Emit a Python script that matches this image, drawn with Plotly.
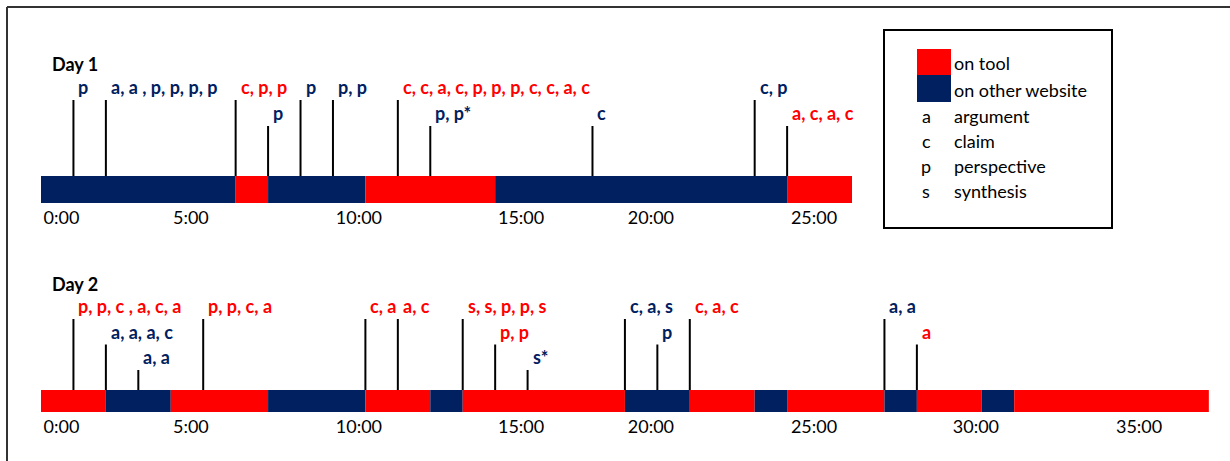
import plotly.graph_objects as go

# ---------------- data ----------------
TOOL = "#FF0000"
WEB = "#002060"
MODE_COLOR = {"tool": TOOL, "web": WEB}

# activity segments (minutes): boundaries and mode of each segment
DAY1_BOUNDS = [0, 6, 7, 10, 14, 23, 25]
DAY1_MODES = ["web", "tool", "web", "tool", "web", "tool"]

DAY2_BOUNDS = [0, 2, 4, 7, 10, 12, 13, 18, 20, 22, 23, 26, 27, 29, 30, 36]
DAY2_MODES = ["tool", "web", "tool", "web", "tool", "web", "tool", "web",
              "tool", "web", "tool", "web", "tool", "web", "tool"]

# contribution events: time (min), tier of the marker line, label, mode
DAY1_T = [1, 2, 6, 7, 8, 9, 11, 12, 17, 22, 23]
DAY1_TIER = [3, 3, 3, 2, 3, 3, 3, 2, 2, 3, 2]
DAY1_LABEL = ["p", "a, a , p, p, p, p", "c, p, p", "p", "p", "p, p",
              "c, c, a, c, p, p, p, c, c, a, c", "p, p*", "c", "c, p", "a, c, a, c"]
DAY1_EVMODE = ["web", "web", "tool", "web", "web", "web", "tool", "web", "web", "web", "tool"]

DAY2_T = [1, 2, 3, 5, 10, 11, 13, 14, 15, 18, 19, 20, 26, 27]
DAY2_TIER = [3, 2, 1, 3, 3, 3, 3, 2, 1, 3, 2, 3, 3, 2]
DAY2_LABEL = ["p, p, c , a, c, a", "a, a, a, c", "a, a", "p, p, c, a", "c, a", "a, c",
              "s, s, p, p, s", "p, p", "s*", "c, a, s", "p", "c, a, c", "a, a", "a"]
DAY2_EVMODE = ["tool", "web", "web", "tool", "tool", "tool", "tool", "tool", "web",
               "web", "web", "tool", "web", "tool"]

# time-axis labels as printed in the figure (label, position in minutes)
TICK_LABELS = ["0:00", "5:00", "10:00", "15:00", "20:00", "25:00", "30:00", "35:00"]
TICK_POS = [0.63, 4.62, 9.80, 14.80, 18.80, 23.83, 28.82, 33.85]
DAY1_NTICKS = 6

LEGEND_SWATCH = [("on tool", TOOL), ("on other website", WEB)]
LEGEND_CODES = [("a", "argument"), ("c", "claim"), ("p", "perspective"), ("s", "synthesis")]

# ---------------- layout geometry (pixels) ----------------
W, H = 1230, 461
X0_PX, PX_PER_MIN = 41, 32.44
XRANGE = [-X0_PX / PX_PER_MIN, (W - X0_PX) / PX_PER_MIN]
FONT = "Lato"
FS = 18

DAYS = [
    dict(name="Day 1", bounds=DAY1_BOUNDS, modes=DAY1_MODES, t=DAY1_T, tier=DAY1_TIER,
         label=DAY1_LABEL, evmode=DAY1_EVMODE, ticks=DAY1_NTICKS,
         bar_top=176, bar_bot=203, origin=178, step=26, top=40, title_y=64),
    dict(name="Day 2", bounds=DAY2_BOUNDS, modes=DAY2_MODES, t=DAY2_T, tier=DAY2_TIER,
         label=DAY2_LABEL, evmode=DAY2_EVMODE, ticks=len(TICK_LABELS),
         bar_top=390, bar_bot=412, origin=395.5, step=25.5, top=262, title_y=283.5),
]


def px2x(px):
    return px / W


def px2y(py):
    return 1 - py / H


fig = go.Figure()
annotations = []
shapes = []

for i, d in enumerate(DAYS):
    sfx = "" if i == 0 else str(i + 1)
    xa, ya = "x" + sfx, "y" + sfx
    to_y = lambda py, d=d: (d["origin"] - py) / d["step"]
    ytop_bar, ybot_bar = to_y(d["bar_top"]), to_y(d["bar_bot"])

    starts = d["bounds"][:-1]
    durs = [b - a for a, b in zip(d["bounds"][:-1], d["bounds"][1:])]
    fig.add_trace(go.Bar(
        orientation="h", base=starts, x=durs,
        y=[(ytop_bar + ybot_bar) / 2] * len(starts), width=ytop_bar - ybot_bar,
        marker=dict(color=[MODE_COLOR[m] for m in d["modes"]], line=dict(width=0)),
        xaxis=xa, yaxis=ya, showlegend=False, hoverinfo="skip"))

    lx, ly = [], []
    for t, tier in zip(d["t"], d["tier"]):
        lx += [t, t, None]
        ly += [ytop_bar, tier, None]
    fig.add_trace(go.Scatter(x=lx, y=ly, mode="lines", line=dict(color="black", width=2),
                             xaxis=xa, yaxis=ya, showlegend=False, hoverinfo="skip"))

    for t, tier, lab, m in zip(d["t"], d["tier"], d["label"], d["evmode"]):
        annotations.append(dict(x=t, y=tier, xref=xa, yref=ya, text="<b>%s</b>" % lab,
                                showarrow=False, xanchor="left", yanchor="middle",
                                xshift=3, yshift=13,
                                font=dict(family=FONT, size=FS, color=MODE_COLOR[m])))

    annotations.append(dict(x=px2x(50), y=px2y(d["title_y"]), xref="paper", yref="paper",
                            text="<b>%s</b>" % d["name"], showarrow=False,
                            xanchor="left", yanchor="middle",
                            font=dict(family=FONT, size=FS, color="black")))

    n = d["ticks"]
    fig.layout["xaxis" + sfx] = dict(
        domain=[0, 1], range=XRANGE, anchor=ya, showgrid=False, zeroline=False,
        showline=False, ticks="", tickvals=TICK_POS[:n], ticktext=TICK_LABELS[:n],
        ticklabelstandoff=2,
        tickfont=dict(family=FONT, size=FS, color="black"), fixedrange=True)
    fig.layout["yaxis" + sfx] = dict(
        domain=[px2y(d["bar_bot"]), px2y(d["top"])], range=[ybot_bar, to_y(d["top"])],
        anchor=xa, visible=False, fixedrange=True)

# outer frame (top and left edges)
shapes.append(dict(type="line", xref="paper", yref="paper", x0=px2x(7), x1=1,
                   y0=px2y(7), y1=px2y(7), line=dict(color="#333333", width=2)))
shapes.append(dict(type="line", xref="paper", yref="paper", x0=px2x(7), x1=px2x(7),
                   y0=px2y(7), y1=0, line=dict(color="#333333", width=2)))

# legend box
shapes.append(dict(type="rect", xref="paper", yref="paper", x0=px2x(884), x1=px2x(1112),
                   y0=px2y(228), y1=px2y(30), line=dict(color="black", width=2),
                   fillcolor="white"))
row_y = [63, 89.5, 116, 141, 166, 191]
sw_edges = [49, 75, 102]
for k, (txt, col) in enumerate(LEGEND_SWATCH):
    shapes.append(dict(type="rect", xref="paper", yref="paper", x0=px2x(917), x1=px2x(951),
                       y0=px2y(sw_edges[k + 1]), y1=px2y(sw_edges[k]),
                       line=dict(width=0), fillcolor=col))
    annotations.append(dict(x=px2x(952), y=px2y(row_y[k]), xref="paper", yref="paper",
                            text=txt, showarrow=False, xanchor="left", yanchor="middle",
                            font=dict(family=FONT, size=FS, color="black")))
for k, (code, txt) in enumerate(LEGEND_CODES):
    yy = px2y(row_y[k + 2])
    annotations.append(dict(x=px2x(926), y=yy, xref="paper", yref="paper", text=code,
                            showarrow=False, xanchor="center", yanchor="middle",
                            font=dict(family=FONT, size=FS, color="black")))
    annotations.append(dict(x=px2x(952), y=yy, xref="paper", yref="paper", text=txt,
                            showarrow=False, xanchor="left", yanchor="middle",
                            font=dict(family=FONT, size=FS, color="black")))

fig.update_layout(width=W, height=H, margin=dict(l=0, r=0, t=0, b=0),
                  paper_bgcolor="white", plot_bgcolor="rgba(0,0,0,0)",
                  barmode="overlay", showlegend=False,
                  annotations=annotations, shapes=shapes)

fig.write_html("out.html", config={"displayModeBar": False},
               post_script="document.body.style.margin='0px';")
